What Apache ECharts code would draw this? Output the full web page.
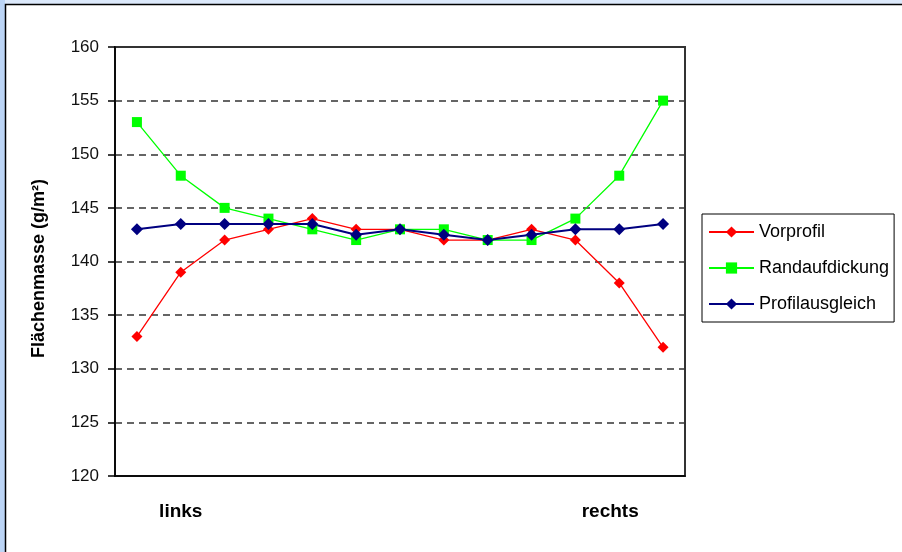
<!DOCTYPE html>
<html>
<head>
<meta charset="utf-8">
<title>Flächenmasse</title>
<script src="https://cdn.jsdelivr.net/npm/echarts@6/dist/echarts.min.js"></script>
<style>
  html, body { margin: 0; padding: 0; background: #dce9fb; }
  #chart { width: 902px; height: 552px; }
</style>
</head>
<body>
<div id="chart"></div>
<script>
// Measurement positions across the width (only the edges are labelled)
const categories = ['', 'links', '', '', '', '', '', '', '', '', '', 'rechts', ''];

// Area weight in g/m² for each profile variant
const vorprofil       = [133, 139, 142, 143, 144, 143, 143, 142, 142, 143, 142, 138, 132];
const randaufdickung  = [153, 148, 145, 144, 143, 142, 143, 143, 142, 142, 144, 148, 155];
const profilausgleich = [143, 143.5, 143.5, 143.5, 143.5, 142.5, 143, 142.5, 142, 142.5, 143, 143, 143.5];

const yMin = 120, yMax = 160, yStep = 5;
const yTitle = 'Flächenmasse (g/m²)';

const chart = echarts.init(document.getElementById('chart'), null, { renderer: 'canvas' });

const font = 'Liberation Sans, Arial, sans-serif';

chart.setOption({
  backgroundColor: '#dce9fb',
  animation: false,
  graphic: [
    { type: 'rect', z: -20, shape: { x: 0, y: 0, width: 5, height: 552 }, style: { fill: '#bcd5f6' } },
    { type: 'rect', z: -10, shape: { x: 5.5, y: 4.5, width: 1000, height: 1000 },
      style: { fill: '#ffffff', stroke: '#000000', lineWidth: 1.5 } }
  ],
  grid: {
    left: 115, top: 47, width: 570, height: 429,
    show: true, borderColor: '#333333', borderWidth: 2, backgroundColor: 'transparent'
  },
  legend: {
    orient: 'vertical',
    left: 702, top: 214,
    padding: [9, 5, 9, 6],
    itemGap: 18,
    itemWidth: 45, itemHeight: 14,
    borderColor: '#000000', borderWidth: 1,
    backgroundColor: '#ffffff',
    textStyle: { fontFamily: font, fontSize: 18, color: '#000000' },
    data: ['Vorprofil', 'Randaufdickung', 'Profilausgleich']
  },
  xAxis: {
    type: 'category',
    data: categories,
    boundaryGap: true,
    axisLine: { lineStyle: { color: '#000000', width: 1.5 } },
    axisTick: { show: false },
    axisLabel: {
      interval: 0,
      margin: 26,
      fontFamily: font, fontSize: 19, fontWeight: 'bold', color: '#000000',
      formatter: function (v) { return v === 'rechts' ? '{r|' + v + '}' : v; },
      rich: { r: { fontFamily: font, fontSize: 19, fontWeight: 'bold', color: '#000000', padding: [0, 18, 0, 0] } }
    },
    splitLine: { show: false }
  },
  yAxis: {
    type: 'value',
    min: yMin, max: yMax, interval: yStep,
    name: yTitle,
    nameLocation: 'middle',
    nameRotate: 90,
    nameGap: 67,
    nameTextStyle: { fontFamily: font, fontSize: 18, fontWeight: 'bold', color: '#000000', padding: [0, 14, 0, 0] },
    axisLine: { show: true, lineStyle: { color: '#000000', width: 1.5 } },
    axisTick: { show: true, length: 7, lineStyle: { color: '#000000', width: 1.5 } },
    axisLabel: { margin: 16, fontFamily: font, fontSize: 17, color: '#111111' },
    splitLine: {
      show: true,
      showMinLine: false,
      showMaxLine: false,
      lineStyle: { color: '#333333', type: [7, 5], width: 1.5 }
    }
  },
  series: [
    {
      name: 'Vorprofil', type: 'line', data: vorprofil,
      symbol: 'diamond', symbolSize: 11,
      itemStyle: { color: '#ff0000' },
      lineStyle: { color: '#ff0000', width: 1.3 }
    },
    {
      name: 'Randaufdickung', type: 'line', data: randaufdickung,
      symbol: 'rect', symbolSize: 10,
      itemStyle: { color: '#00ff00' },
      lineStyle: { color: '#00ff00', width: 1.3 }
    },
    {
      name: 'Profilausgleich', type: 'line', data: profilausgleich,
      symbol: 'diamond', symbolSize: 12,
      itemStyle: { color: '#000080' },
      lineStyle: { color: '#000080', width: 2 }
    }
  ]
});
</script>
</body>
</html>
